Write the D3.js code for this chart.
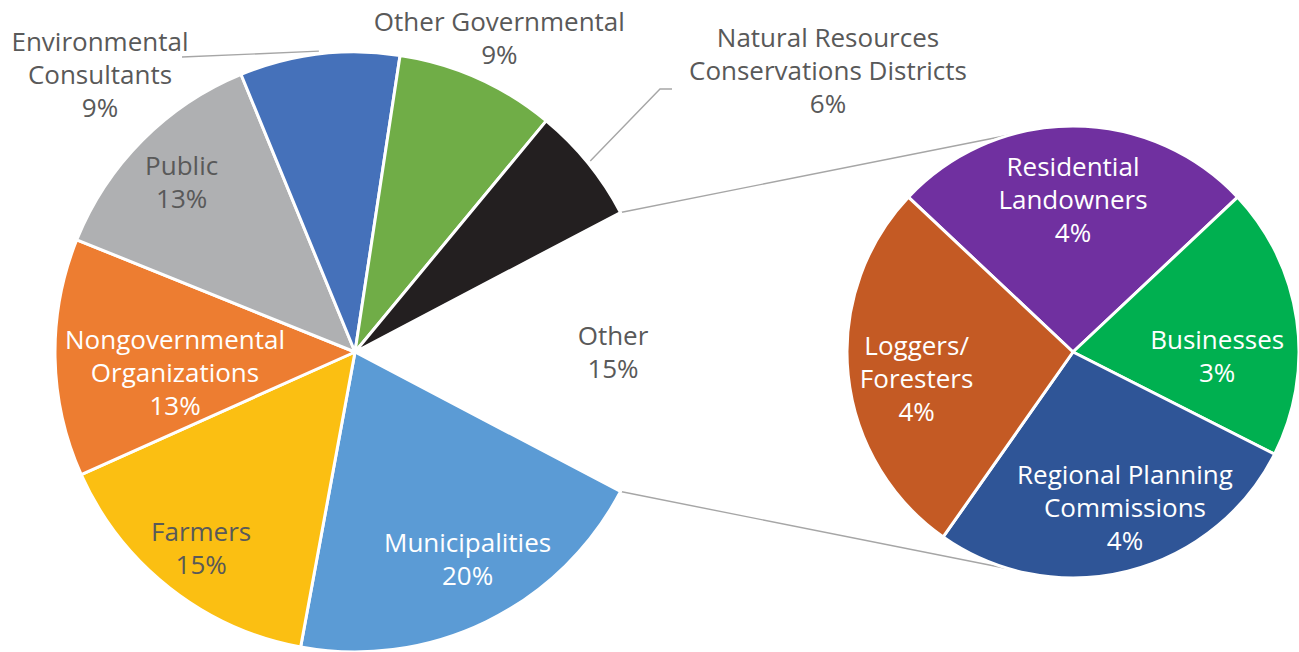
<!DOCTYPE html>
<html>
<head>
<meta charset="utf-8">
<script src="https://cdn.jsdelivr.net/npm/d3@7"></script>
<style>
    body { margin: 0; background: #fff; }
    text { font-family: "Open Sans", "Liberation Sans", sans-serif; }
</style>
</head>
<body>
<div id="chart"></div>
<script>
/** DATA */
// main pie, clockwise from the slice just after "Other"
const mainNames = ["Municipalities", "Farmers", "Nongovernmental Organizations", "Public",
    "Environmental Consultants", "Other Governmental", "Natural Resources Conservations Districts"]
const mainLines = [["Municipalities"], ["Farmers"], ["Nongovernmental", "Organizations"], ["Public"],
    ["Environmental", "Consultants"], ["Other Governmental"], ["Natural Resources", "Conservations Districts"]]
const mainValues = [20.2, 15.4, 12.8, 12.7, 8.6, 8.6, 6.3]
const mainColors = ["#5B9BD5", "#FBBF12", "#ED7D31", "#AFB0B2", "#4571BA", "#70AD47", "#231F20"]
const mainText = ["#fff", "#595959", "#fff", "#595959", "#595959", "#595959", "#595959"]

// the "Other" slice is broken out into the second pie
const subNames = ["Residential Landowners", "Businesses", "Regional Planning Commissions", "Loggers/ Foresters"]
const subLines = [["Residential", "Landowners"], ["Businesses"], ["Regional Planning", "Commissions"], ["Loggers/", "Foresters"]]
const subValues = [4.0, 3.0, 4.2, 4.2]
const subColors = ["#7030A0", "#00B050", "#2F5597", "#C45A24"]

/** CONSTANTS */
const width = 1299,
    height = 652,
    fontSize = 26,
    lineGap = 33,
    main = { cx: 355, cy: 352, r: 300 },
    sub = { cx: 1073, cy: 352, r: 226 },
    connectorAngle = 16 * Math.PI / 180

// label placement: fraction of radius along the mid angle plus a nudge
const mainPlace = [
    { f: 0.79, dx: 9, dy: -6 },
    { f: 0.83, dx: 0, dy: 0 },
    { f: 0.60, dx: 0, dy: 17 },
    { f: 0.81, dx: -1, dy: 1 },
    { x: 100, y: 74.5, leader: [182, 57] },
    { f: 1.153, dx: 3, dy: 2 },
    { x: 828, y: 71, leader: [672, 89] }
]
const subPlace = [
    { f: 0.675, dx: 0, dy: 0 },
    { f: 0.64, dx: 1, dy: 25 },
    { f: 0.73, dx: 12, dy: -4 },
    { f: 0.70, dx: 1, dy: 11 }
]

const otherValue = d3.sum(subValues)
const total = d3.sum(mainValues) + otherValue
const pct = v => Math.round(v / total * 100) + "%"

/** PIE LAYOUTS */
const otherSpan = 2 * Math.PI * otherValue / total
const mainStart = Math.PI / 2 + otherSpan / 2

const mainData = mainNames.map((name, i) => ({ name, value: mainValues[i], lines: mainLines[i], color: mainColors[i], text: mainText[i], place: mainPlace[i] }))
mainData.push({ name: "Other", value: otherValue, lines: ["Other"], color: "none", text: "#595959", place: { f: 0.86, dx: 0, dy: 0 } })

const mainPie = d3.pie().sort(null).value(d => d.value)
    .startAngle(mainStart).endAngle(mainStart + 2 * Math.PI)
const mainArcs = mainPie(mainData)

const subSpan0 = 2 * Math.PI * subValues[0] / otherValue
const subData = subNames.map((name, i) => ({ name, value: subValues[i], lines: subLines[i], color: subColors[i], text: "#fff", place: subPlace[i] }))
const subPie = d3.pie().sort(null).value(d => d.value)
    .startAngle(-subSpan0 / 2).endAngle(-subSpan0 / 2 + 2 * Math.PI)
const subArcs = subPie(subData)

const mainArc = d3.arc().innerRadius(0).outerRadius(main.r)
const subArc = d3.arc().innerRadius(0).outerRadius(sub.r)

const polar = (c, r, a) => [c.cx + r * Math.sin(a), c.cy - r * Math.cos(a)]

/** MAIN CODE */
const svg = d3.select("#chart")
    .append("svg")
    .attr("width", width)
    .attr("height", height)

// connector lines between the "Other" slice and the second pie
// (startAngle of "Other" is its upper edge, endAngle its lower edge)
const other = mainArcs[mainArcs.length - 1]
const connectors = [
    [polar(main, main.r, other.startAngle), polar(sub, sub.r, -connectorAngle)],
    [polar(main, main.r, other.endAngle), polar(sub, sub.r, Math.PI + connectorAngle)]
]
svg.selectAll("line.connector")
    .data(connectors)
    .join("line")
    .attr("class", "connector")
    .attr("x1", d => d[0][0])
    .attr("y1", d => d[0][1])
    .attr("x2", d => d[1][0])
    .attr("y2", d => d[1][1])
    .attr("stroke", "#A6A6A6")
    .attr("stroke-width", 1.4)

// main slices
svg.append("g")
    .attr("transform", `translate(${main.cx},${main.cy})`)
    .selectAll("path")
    .data(mainArcs.filter(d => d.data.color !== "none"))
    .join("path")
    .attr("d", mainArc)
    .attr("fill", d => d.data.color)
    .attr("stroke", "#fff")
    .attr("stroke-width", 3)
    .attr("stroke-linejoin", "round")

// second pie slices
svg.append("g")
    .attr("transform", `translate(${sub.cx},${sub.cy})`)
    .selectAll("path")
    .data(subArcs)
    .join("path")
    .attr("d", subArc)
    .attr("fill", d => d.data.color)
    .attr("stroke", "#fff")
    .attr("stroke-width", 3)
    .attr("stroke-linejoin", "round")

// work out where each label sits
function labelPos(d, c) {
    const p = d.data.place
    if (p.x !== undefined) return [p.x, p.y]
    const mid = (d.startAngle + d.endAngle) / 2
    const pt = polar(c, c.r * p.f, mid)
    return [pt[0] + p.dx, pt[1] + p.dy]
}

// leader lines for the labels sitting off the pie
const leaders = mainArcs.filter(d => d.data.place.leader)
svg.selectAll("polyline.leader")
    .data(leaders)
    .join("polyline")
    .attr("class", "leader")
    .attr("points", d => {
        const mid = (d.startAngle + d.endAngle) / 2
        const tip = polar(main, main.r + 3, mid)
        const end = d.data.place.leader
        // bend the line into a short horizontal before the label
        if (end[0] > tip[0]) return [tip, [end[0] - 12, end[1]], end].map(p => p.join(",")).join(" ")
        return [tip, end].map(p => p.join(",")).join(" ")
    })
    .attr("fill", "none")
    .attr("stroke", "#A6A6A6")
    .attr("stroke-width", 1.4)

function drawLabels(arcs, c) {
    const lab = svg.append("g")
        .selectAll("text")
        .data(arcs)
        .join("text")
        .attr("text-anchor", "middle")
        .attr("font-size", fontSize)
        .attr("fill", d => d.data.text)

    lab.each(function (d) {
        const [x, y] = labelPos(d, c)
        const lines = d.data.lines.concat([pct(d.value)])
        const top = y - (lines.length - 1) * lineGap / 2
        d3.select(this)
            .selectAll("tspan")
            .data(lines)
            .join("tspan")
            .attr("x", x)
            .attr("y", (t, i) => top + i * lineGap)
            .attr("dy", "0.36em")
            .text(t => t)
    })
}

drawLabels(mainArcs, main)
drawLabels(subArcs, sub)
</script>
</body>
</html>
